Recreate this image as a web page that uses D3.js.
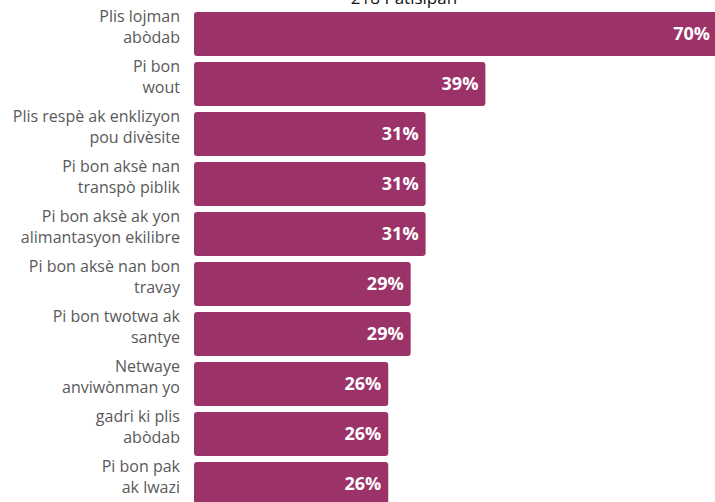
<!DOCTYPE html>
<html><head><meta charset="utf-8">
<script src="https://cdn.jsdelivr.net/npm/d3@7"></script>
<style>html,body{margin:0;padding:0;background:#fff;overflow:hidden}</style>
</head><body>
<svg id="chart" width="715" height="502"></svg>
<script>
const title = "218 Patisipan";
const categories = [
  ["Plis lojman", "abòdab"],
  ["Pi bon", "wout"],
  ["Plis respè ak enklizyon", "pou divèsite"],
  ["Pi bon aksè nan", "transpò piblik"],
  ["Pi bon aksè ak yon", "alimantasyon ekilibre"],
  ["Pi bon aksè nan bon", "travay"],
  ["Pi bon twotwa ak", "santye"],
  ["Netwaye", "anviwònman yo"],
  ["gadri ki plis", "abòdab"],
  ["Pi bon pak", "ak lwazi"]
];
const values = [70, 39, 31, 31, 31, 29, 29, 26, 26, 26];

const svg = d3.select("#chart");
const x0 = 194;
const x = d3.scaleLinear().domain([0, 70]).range([x0, 717]);
const y = d3.scaleBand().domain(d3.range(values.length)).range([9, 509]).paddingInner(0.12).paddingOuter(0.06);

svg.append("text").attr("x", 404).attr("y", 4).attr("text-anchor", "middle")
  .attr("font-family", "Open Sans, sans-serif").attr("font-size", 17).attr("fill", "#111").text(title);

const g = svg.append("g").selectAll("g").data(values).join("g");
g.append("rect")
  .attr("x", x(0)).attr("y", (d, i) => y(i))
  .attr("width", d => x(d) - x(0)).attr("height", y.bandwidth())
  .attr("rx", 3).attr("fill", "#9b3268");
g.append("text")
  .attr("x", d => x(d) - 7).attr("y", (d, i) => y(i) + y.bandwidth() / 2 + 6)
  .attr("text-anchor", "end").attr("font-family", "Open Sans, sans-serif")
  .attr("font-weight", "bold").attr("font-size", 18).attr("fill", "#fff")
  .text(d => d + "%");
const lab = g.append("text")
  .attr("text-anchor", "end").attr("font-family", "Open Sans, sans-serif")
  .attr("font-size", 16).attr("fill", "#595959");
lab.each(function(d, i) {
  const t = d3.select(this);
  const cy = y(i) + y.bandwidth() / 2;
  categories[i].forEach((line, k) => {
    t.append("tspan").attr("x", 180).attr("y", cy - 12 + k * 21).text(line);
  });
});
</script>
</body></html>
